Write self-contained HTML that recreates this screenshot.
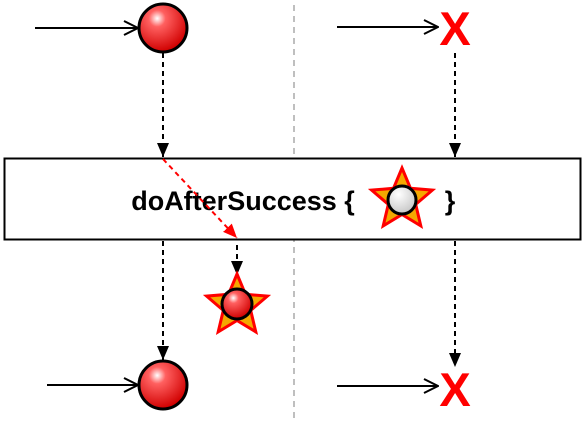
<!DOCTYPE html>
<html><head><style>html,body{margin:0;padding:0;background:#fff}svg{display:block}</style></head><body>
<svg width="585" height="421" viewBox="0 0 585 421" xmlns="http://www.w3.org/2000/svg">
<defs>
<radialGradient id="rg" cx="0.38" cy="0.3" r="0.7">
<stop offset="0" stop-color="#fff"/><stop offset="0.25" stop-color="#ff6060"/><stop offset="1" stop-color="#d00000"/>
</radialGradient>
<radialGradient id="wg" cx="0.38" cy="0.3" r="0.7">
<stop offset="0" stop-color="#fff"/><stop offset="1" stop-color="#c8c8c8"/>
</radialGradient>
<marker id="ah" viewBox="0 0 14 12" refX="14" refY="6" markerWidth="14" markerHeight="12" markerUnits="userSpaceOnUse" orient="auto">
<path d="M0,0 L14,6 L0,12 z" fill="#000"/></marker>
<marker id="ahr" viewBox="0 0 14 12" refX="14" refY="6" markerWidth="14" markerHeight="12" markerUnits="userSpaceOnUse" orient="auto">
<path d="M0,0 L14,6 L0,12 z" fill="#f00"/></marker>
<marker id="op" viewBox="0 0 16 16" refX="15" refY="8" markerWidth="16" markerHeight="16" markerUnits="userSpaceOnUse" orient="auto">
<path d="M1,1 L15,8 L1,15" fill="none" stroke="#000" stroke-width="2"/></marker>
<polygon id="star" points="0,-32 8.5,-11.7 30.4,-9.9 13.7,4.4 18.8,25.9 0,14.5 -18.8,25.9 -13.7,4.4 -30.4,-9.9 -8.5,-11.7" fill="#f5a800" stroke="#f00" stroke-width="3" stroke-linejoin="miter"/>
</defs>
<line x1="294" y1="5" x2="294" y2="421" stroke="#aaa" stroke-width="1.5" stroke-dasharray="6,5"/>
<!-- top -->
<line x1="35" y1="28" x2="138" y2="28" stroke="#000" stroke-width="2" marker-end="url(#op)"/>
<line x1="163" y1="53" x2="163" y2="157" stroke="#000" stroke-width="2" stroke-dasharray="5,4" marker-end="url(#ah)"/>
<circle cx="163" cy="28" r="24" fill="url(#rg)" stroke="#000" stroke-width="3"/>
<line x1="337" y1="27" x2="438" y2="27" stroke="#000" stroke-width="2" marker-end="url(#op)"/>
<text x="455" y="45" text-anchor="middle" font-family="Liberation Sans, sans-serif" font-weight="bold" font-size="47" fill="#f00">X</text>
<line x1="455" y1="53" x2="455" y2="157" stroke="#000" stroke-width="2" stroke-dasharray="5,4" marker-end="url(#ah)"/>
<!-- box -->
<rect x="4.5" y="158.5" width="576" height="81" fill="#fff" stroke="#000" stroke-width="2"/>
<text x="243" y="210" text-anchor="middle" font-family="Liberation Sans, sans-serif" font-weight="bold" font-size="27" fill="#000">doAfterSuccess {</text>
<text x="450" y="210" text-anchor="middle" font-family="Liberation Sans, sans-serif" font-weight="bold" font-size="27" fill="#000">}</text>
<use href="#star" x="402" y="200"/>
<circle cx="402" cy="200" r="14" fill="url(#wg)" stroke="#000" stroke-width="3"/>
<line x1="163" y1="159" x2="237" y2="238" stroke="#f00" stroke-width="2" stroke-dasharray="5,4" marker-end="url(#ahr)"/>
<!-- bottom -->
<line x1="237" y1="245" x2="237" y2="275" stroke="#000" stroke-width="2" stroke-dasharray="5,4" marker-end="url(#ah)"/>
<use href="#star" x="237" y="306"/>
<circle cx="237" cy="304" r="15" fill="url(#rg)" stroke="#000" stroke-width="3"/>
<line x1="163" y1="241" x2="163" y2="360" stroke="#000" stroke-width="2" stroke-dasharray="5,4" marker-end="url(#ah)"/>
<line x1="47" y1="385" x2="138" y2="385" stroke="#000" stroke-width="2" marker-end="url(#op)"/>
<circle cx="163" cy="385" r="24" fill="url(#rg)" stroke="#000" stroke-width="3"/>
<line x1="455" y1="241" x2="455" y2="367" stroke="#000" stroke-width="2" stroke-dasharray="5,4" marker-end="url(#ah)"/>
<line x1="337" y1="386" x2="438" y2="386" stroke="#000" stroke-width="2" marker-end="url(#op)"/>
<text x="455" y="406" text-anchor="middle" font-family="Liberation Sans, sans-serif" font-weight="bold" font-size="47" fill="#f00">X</text>
</svg>
</body></html>
